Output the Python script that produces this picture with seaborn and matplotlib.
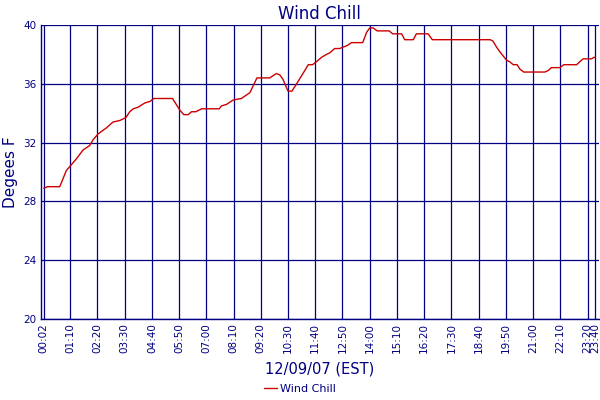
import matplotlib
matplotlib.use("Agg")
import matplotlib.pyplot as plt
import pandas as pd
import seaborn as sns

# readings of 12/09/07 (time of day, degrees F)
times = ["00:02", "00:12", "00:43", "01:00", "01:13", "01:26", "01:43", "02:00",
         "02:09", "02:22", "02:43", "03:00", "03:17", "03:33", "03:43", "03:52",
         "04:04", "04:22", "04:35", "04:45", "05:33", "05:52", "06:02", "06:13",
         "06:22", "06:33", "06:48", "07:33", "07:39", "07:52", "08:09", "08:30",
         "08:52", "09:10", "09:43", "10:00", "10:09", "10:17", "10:30", "10:40",
         "10:52", "11:13", "11:22", "11:33", "11:43", "11:56", "12:09", "12:17",
         "12:30", "12:43", "12:52", "13:02", "13:13", "13:42", "13:52", "14:00",
         "14:09", "14:19", "14:50", "14:59", "15:22", "15:30", "15:52", "16:00",
         "16:30", "16:41", "19:10", "19:17", "19:26", "19:34", "19:43", "19:52",
         "20:00", "20:09", "20:19", "20:26", "20:36", "21:30", "21:39", "21:47",
         "22:09", "22:19", "22:52", "23:00", "23:09", "23:30", "23:37", "23:40"]
wind_chill = [28.9, 29.0, 29.0, 30.1, 30.5, 30.9, 31.5, 31.8,
              32.2, 32.6, 33.0, 33.4, 33.5, 33.7, 34.1, 34.3,
              34.4, 34.7, 34.8, 35.0, 35.0, 34.2, 33.9, 33.9,
              34.1, 34.1, 34.3, 34.3, 34.5, 34.6, 34.9, 35.0,
              35.4, 36.4, 36.4, 36.7, 36.6, 36.3, 35.5, 35.5,
              36.0, 36.9, 37.3, 37.3, 37.5, 37.8, 38.0, 38.1,
              38.4, 38.4, 38.5, 38.6, 38.8, 38.8, 39.5, 39.8,
              39.8, 39.6, 39.6, 39.4, 39.4, 39.0, 39.0, 39.4,
              39.4, 39.0, 39.0, 38.9, 38.5, 38.2, 37.9, 37.6,
              37.5, 37.3, 37.3, 37.0, 36.8, 36.8, 36.9, 37.1,
              37.1, 37.3, 37.3, 37.5, 37.7, 37.7, 37.8, 37.8]

tick_labels = ["00:02", "01:10", "02:20", "03:30", "04:40", "05:50", "07:00",
               "08:10", "09:20", "10:30", "11:40", "12:50", "14:00", "15:10",
               "16:20", "17:30", "18:40", "19:50", "21:00", "22:10", "23:20",
               "23:40"]
y_ticks = [20, 24, 28, 32, 36, 40]


def to_minutes(s):
    h, m = s.split(":")
    return int(h) * 60 + int(m)


df = pd.DataFrame({"minute": [to_minutes(t) for t in times],
                   "value": wind_chill})

NAVY = "#000080"
RED = "#cc0000"

sns.set_style("white")
plt.rcParams["font.family"] = ["DejaVu Sans"]

fig = plt.figure(figsize=(6, 4), dpi=100)
ax = fig.add_axes([0.068, 0.2025, 0.93, 0.735])

sns.lineplot(data=df, x="minute", y="value", ax=ax, color=RED,
             linewidth=1.0, label="Wind Chill", legend=False)

ax.set_xlim(-5.7, 1429)
ax.set_ylim(20, 40)
ax.set_xticks([to_minutes(t) for t in tick_labels])
ax.set_xticklabels(tick_labels, rotation=90)
ax.set_yticks(y_ticks)
ax.tick_params(axis="both", length=0, colors=NAVY, labelsize=7.5, pad=3)

ax.grid(True, color=NAVY, linewidth=0.9)
ax.set_axisbelow(True)
for side in ["top", "right"]:
    ax.spines[side].set_visible(False)
for side in ["left", "bottom"]:
    ax.spines[side].set_color(NAVY)
    ax.spines[side].set_linewidth(1.0)

ax.set_title("Wind Chill", color=NAVY, fontsize=12, pad=4)
ax.set_ylabel("Degees F", color=NAVY, fontsize=11, labelpad=4)
ax.set_xlabel("12/09/07 (EST)", color=NAVY, fontsize=10.5, labelpad=6)

handles, labels = ax.get_legend_handles_labels()
leg = fig.legend(handles, labels, loc="lower center", bbox_to_anchor=(0.5, -0.01),
                 frameon=False, fontsize=8, handlelength=1.1, handletextpad=0.3)
for t in leg.get_texts():
    t.set_color(NAVY)

fig.savefig("out.png", dpi=100)
